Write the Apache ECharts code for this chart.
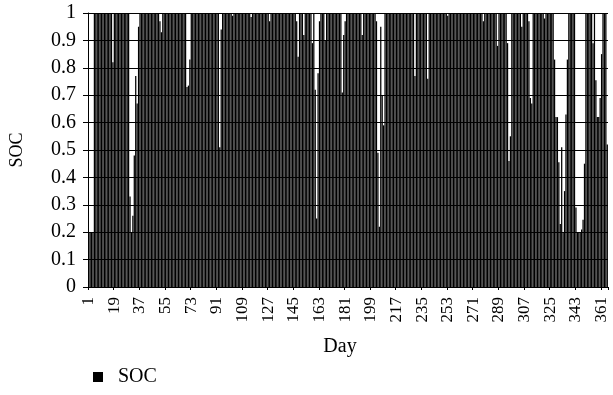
<!DOCTYPE html>
<html>
<head>
<meta charset="utf-8">
<script src="https://cdn.jsdelivr.net/npm/echarts@6/dist/echarts.min.js"></script>
<style>
html,body{margin:0;padding:0;background:#fff;}
#c{width:613px;height:395px;}
</style>
</head>
<body>
<div id="c"></div>
<script>
// Day numbers (category axis)
const days = [];
for (let d = 1; d <= 365; d++) days.push(String(d));

// Y tick labels
const yTicks = ['0','0.1','0.2','0.3','0.4','0.5','0.6','0.7','0.8','0.9','1'];

// SOC values per day
const soc = [
  0.2,0.2,0.2,0.2,1,1,1,1,1,1,1,1,1,1,1,1,1,0.82,1,1,
  1,1,1,1,1,1,1,1,1,0.33,0.2,0.26,0.48,0.77,0.67,0.95,1,1,1,1,
  1,1,1,1,1,1,1,1,1,1,0.97,0.93,1,1,1,1,1,1,1,1,
  1,1,1,1,1,1,1,1,1,0.73,0.735,0.83,1,1,1,1,1,1,1,1,
  1,1,1,1,1,1,1,1,1,1,1,1,0.51,0.94,1,1,1,1,1,1,
  1,0.99,1,1,1,1,1,1,1,1,1,1,1,1,0.985,1,1,1,1,1,
  1,1,1,1,1,1,1,0.97,1,1,1,1,1,1,1,1,1,1,1,1,
  1,1,1,1,1,1,0.97,0.84,1,1,1,0.92,1,1,1,1,1,0.89,1,0.72,
  0.25,0.78,0.97,1,1,1,0.9,1,1,1,1,1,1,1,1,1,1,1,0.71,0.92,
  0.97,1,1,1,1,1,1,1,1,1,1,1,0.92,1,1,1,1,1,1,1,
  1,1,0.97,0.49,0.22,0.95,0.7,0.59,1,1,1,1,1,1,1,1,1,1,1,1,
  1,1,1,1,1,1,1,1,1,0.77,1,1,1,1,1,1,1,1,0.76,1,
  1,1,1,1,1,1,1,1,1,1,1,1,0.99,1,1,1,1,1,1,1,
  1,1,1,1,1,1,1,1,1,1,1,1,1,1,1,1,1,0.97,1,1,
  1,1,1,1,1,1,1,0.88,1,1,1,1,1,1,0.89,0.46,0.55,1,1,1,
  1,1,1,1,0.95,1,1,1,1,0.97,0.69,0.67,1,1,1,1,1,1,1,1,
  0.98,1,1,1,1,1,1,0.83,0.62,0.62,0.455,0.23,0.51,0.2,0.35,0.63,0.83,1,1,1,
  1,1,0.29,0.2,0.2,0.2,0.21,0.245,0.45,1,1,1,1,1,0.89,1,0.755,0.62,0.62,0.69,
  0.85,1,1,1,0.52
];

const serif = '"Liberation Serif", "Times New Roman", serif';
const chart = echarts.init(document.getElementById('c'), null, {renderer: 'canvas'});
chart.setOption({
  animation: false,
  backgroundColor: '#fff',
  grid: {left: 86, right: 5, top: 13, bottom: 108, containLabel: false},
  legend: {
    data: ['SOC'],
    left: 88, top: 362,
    icon: 'rect', itemWidth: 10, itemHeight: 10, itemGap: 10,
    textStyle: {fontFamily: serif, fontSize: 20, color: '#000', padding: [0, 0, 0, 10]}
  },
  xAxis: {
    type: 'category',
    data: days,
    name: 'Day',
    nameLocation: 'middle',
    nameGap: 50,
    nameTextStyle: {fontFamily: serif, fontSize: 20, color: '#000', padding: [0, 16, 0, 0]},
    axisLine: {lineStyle: {color: '#000', width: 1}},
    axisTick: {show: true, interval: 17, length: 3, lineStyle: {color: '#000'}},
    axisLabel: {
      interval: 17, rotate: 90, fontFamily: serif, fontSize: 17, color: '#000', margin: 10
    },
    splitLine: {show: false}
  },
  yAxis: {
    type: 'value',
    min: 0, max: 1, interval: 0.1,
    name: 'SOC',
    nameLocation: 'middle',
    nameGap: 62,
    nameTextStyle: {fontFamily: serif, fontSize: 18, color: '#000'},
    axisLine: {show: true, lineStyle: {color: '#000', width: 1}},
    axisTick: {show: true, length: 5, lineStyle: {color: '#000'}},
    axisLabel: {
      fontFamily: serif, fontSize: 20, color: '#000', margin: 12,
      formatter: function (v) { return yTicks[Math.round(v * 10)]; }
    },
    splitLine: {show: true, lineStyle: {color: '#000', width: 1}}
  },
  series: [{
    name: 'SOC',
    type: 'bar',
    data: soc,
    itemStyle: {color: '#000'},
    barCategoryGap: '12%'
  }]
});
</script>
</body>
</html>
